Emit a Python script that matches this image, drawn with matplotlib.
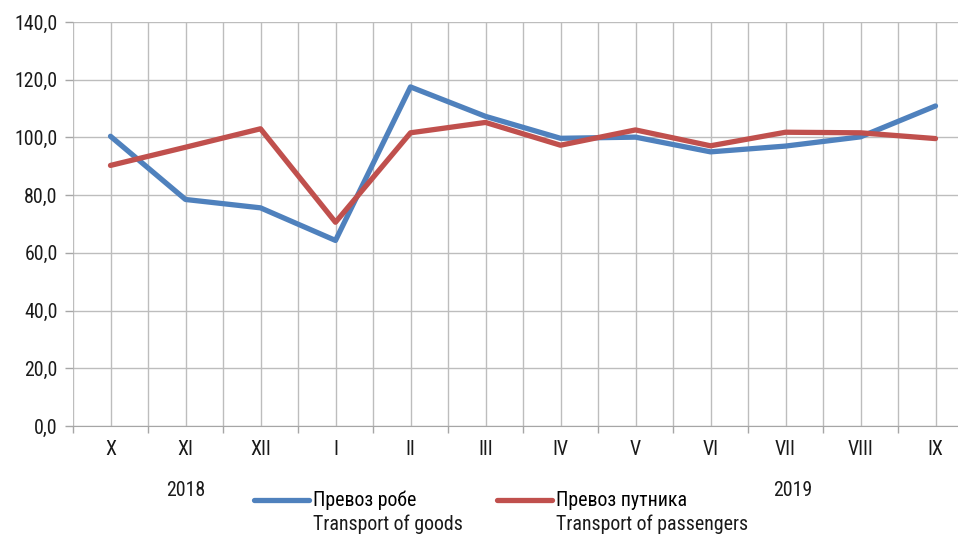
import matplotlib.pyplot as plt
from matplotlib.lines import Line2D

plt.rcParams['font.family'] = ['Roboto Condensed', 'DejaVu Sans']

months = ['X', 'XI', 'XII', 'I', 'II', 'III', 'IV', 'V', 'VI', 'VII', 'VIII', 'IX']
goods = [100.4, 78.5, 75.6, 64.3, 117.5, 107.3, 99.7, 100.1, 95.0, 97.0, 100.2, 110.9]
passengers = [90.3, 96.6, 103.0, 70.6, 101.6, 105.2, 97.3, 102.6, 97.1, 101.8, 101.6, 99.6]
years = ['2018', '2019']
year_pos = [1, 9.1]
labels_sr = ['Превоз робе', 'Превоз путника']
labels_en = ['Transport of goods', 'Transport of passengers']

blue = '#4F81BD'
red = '#C0504D'
grid_c = '#BDBDBD'
fs = 14.3

fig = plt.figure(figsize=(9.58, 5.37), dpi=100)
ax = fig.add_axes([73 / 958, 111 / 537, 900 / 958, 404 / 537])

x = list(range(len(months)))
ax.plot(x, goods, color=blue, lw=3.8, solid_capstyle='round', solid_joinstyle='round', zorder=3)
ax.plot(x, passengers, color=red, lw=3.8, solid_capstyle='round', solid_joinstyle='round', zorder=3)

ax.set_xlim(-0.5, len(months) - 0.5)
ax.set_ylim(0, 140)
ax.set_yticks(range(0, 141, 20))
ax.set_yticklabels([f'{v},0' for v in range(0, 141, 20)], fontsize=fs, color='#1a1a1a')
ax.set_xticks(x)
ax.set_xticklabels(months, fontsize=fs, color='#1a1a1a')
ax.set_xticks([i - 0.5 for i in range(len(months) + 1)], minor=True)

ax.tick_params(axis='x', which='major', length=0, pad=10)
ax.tick_params(axis='x', which='minor', length=5, color='#A6A6A6', width=1)
ax.tick_params(axis='y', length=6, color='#A6A6A6', width=1, pad=5)

ax.grid(True, which='both', color=grid_c, lw=1)
ax.set_axisbelow(True)
for s in ['top', 'right', 'left']:
    ax.spines[s].set_visible(False)
ax.spines['bottom'].set_color('#A6A6A6')

# year labels under the month axis
for yr, p in zip(years, year_pos):
    ax.text(p, -22.3, yr, ha='center', va='center', fontsize=fs, color='#1a1a1a')

handles = [Line2D([], [], color=blue, lw=3.8, solid_capstyle='round'),
           Line2D([], [], color=red, lw=3.8, solid_capstyle='round')]
leg = fig.legend(handles, labels_sr, loc='upper left', bbox_to_anchor=(254 / 958, 1 - 491 / 537),
                 ncol=2, frameon=False, fontsize=fs, handlelength=2.75, handletextpad=0.2,
                 columnspacing=4.1, borderpad=0, borderaxespad=0)

fig.canvas.draw()
inv = fig.transFigure.inverted()
for t, en in zip(leg.get_texts(), labels_en):
    bb = t.get_window_extent()
    x0, y0 = inv.transform((bb.x0, bb.y0))
    fig.text(x0, y0 - 4 / 537, en, ha='left', va='top', fontsize=fs, color='#1a1a1a')

fig.savefig('out.png', dpi=100)
